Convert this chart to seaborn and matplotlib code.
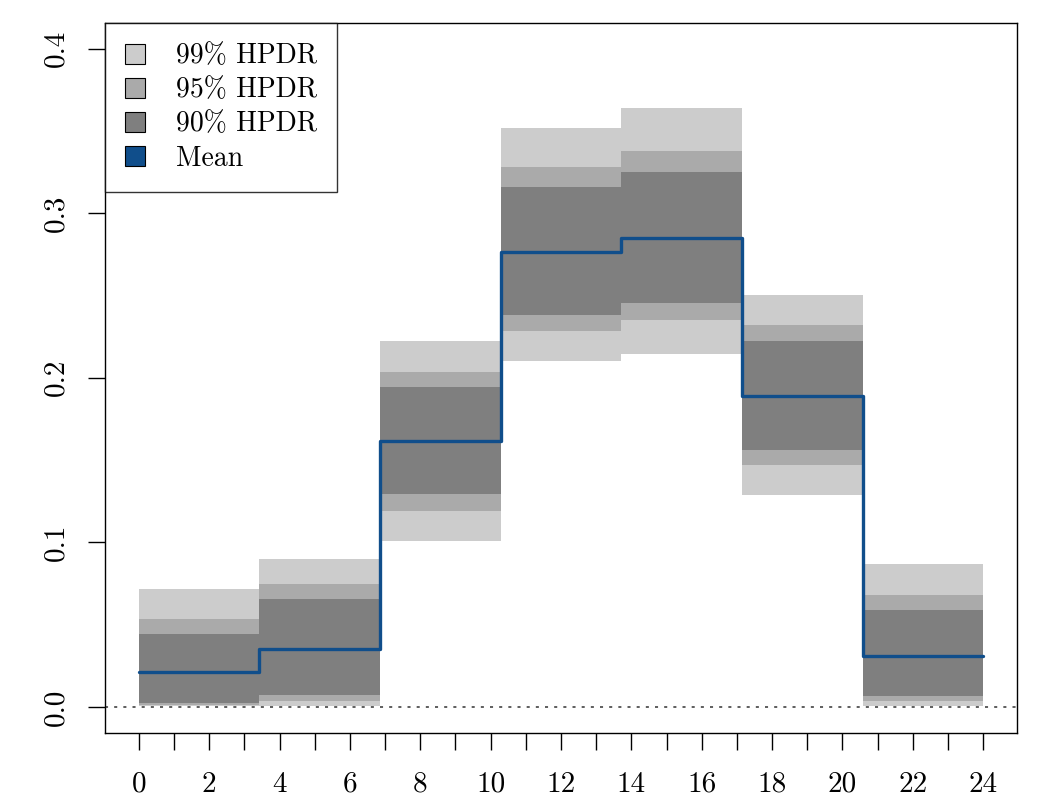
import numpy as np
import matplotlib
matplotlib.use("Agg")
import matplotlib.pyplot as plt
from matplotlib.patches import Patch
import seaborn as sns
import pandas as pd

# Bin edges (7 equal bins over 0..24)
edges = np.linspace(0, 24, 8)

# Posterior summaries per bin
mean_vals = [0.0210, 0.0354, 0.1615, 0.2763, 0.2850, 0.1892, 0.0311]
hpd99_lo = [0.0003, 0.0005, 0.1011, 0.2101, 0.2145, 0.1285, 0.0009]
hpd99_hi = [0.0718, 0.0902, 0.2222, 0.3518, 0.3637, 0.2504, 0.0866]
hpd95_lo = [0.0012, 0.0035, 0.1189, 0.2287, 0.2348, 0.1471, 0.0035]
hpd95_hi = [0.0532, 0.0748, 0.2034, 0.3279, 0.3379, 0.2322, 0.0683]
hpd90_lo = [0.0023, 0.0074, 0.1291, 0.2384, 0.2457, 0.1564, 0.0064]
hpd90_hi = [0.0445, 0.0659, 0.1943, 0.3157, 0.3251, 0.2224, 0.0592]

x_tick_labels = [str(v) if v % 2 == 0 else "" for v in range(25)]
y_ticks = [0.0, 0.1, 0.2, 0.3, 0.4]

sns.set_theme(style="white")
plt.rcParams["font.family"] = ["cmr10", "DejaVu Serif"]
plt.rcParams["axes.formatter.use_mathtext"] = True
plt.rcParams["mathtext.fontset"] = "cm"
plt.rcParams["text.color"] = "black"
plt.rcParams["xtick.color"] = "black"
plt.rcParams["ytick.color"] = "black"
plt.rcParams["xtick.labelcolor"] = "black"
plt.rcParams["ytick.labelcolor"] = "black"

col99, col95, col90 = "#CCCCCC", "#AAAAAA", "#7F7F7F"
col_mean = "#104E8B"

fig = plt.figure(figsize=(10.38, 7.96), dpi=100)
ax = fig.add_axes([105 / 1038, 63 / 796, (1017 - 105) / 1038, (733 - 23) / 796])

def step_y(vals):
    return np.append(vals, vals[-1])

for lo, hi, c in [(hpd99_lo, hpd99_hi, col99),
                  (hpd95_lo, hpd95_hi, col95),
                  (hpd90_lo, hpd90_hi, col90)]:
    ax.fill_between(edges, step_y(lo), step_y(hi), step="post",
                    color=c, linewidth=0)

df = pd.DataFrame({"x": edges, "mean": step_y(mean_vals)})
sns.lineplot(data=df, x="x", y="mean", ax=ax, color=col_mean,
             linewidth=2.4, drawstyle="steps-post", estimator=None)

ax.axhline(0, color="#333333", linestyle=(0, (2, 4)), linewidth=1.1)

ax.set_xlim(-0.96, 24.96)
ax.set_ylim(-0.0158, 0.4155)
ax.set_xticks(range(25))
ax.set_xticklabels(x_tick_labels)
ax.set_yticks(y_ticks)
ax.set_yticklabels([f"{v:.1f}" for v in y_ticks], rotation=90, va="center")
ax.set_xlabel("")
ax.set_ylabel("")
ax.tick_params(axis="both", direction="out", length=12, width=1.0,
               color="black", labelcolor="black", labelsize=21,
               bottom=True, left=True)
ax.tick_params(axis="x", pad=15.5)
ax.tick_params(axis="y", pad=14)
for s in ax.spines.values():
    s.set_color("black")
    s.set_linewidth(1.0)
    s.set_visible(True)

handles = [Patch(facecolor=col99, edgecolor="black", linewidth=0.8, label="99% HPDR"),
           Patch(facecolor=col95, edgecolor="black", linewidth=0.8, label="95% HPDR"),
           Patch(facecolor=col90, edgecolor="black", linewidth=0.8, label="90% HPDR"),
           Patch(facecolor=col_mean, edgecolor="black", linewidth=0.8, label="Mean")]
leg = ax.legend(handles=handles, loc="upper left", borderaxespad=0,
                fontsize=20, frameon=True, fancybox=False, handlelength=0.72,
                handleheight=0.72, handletextpad=1.1, borderpad=0.72,
                labelspacing=0.28)
leg.get_frame().set_edgecolor("black")
leg.get_frame().set_linewidth(1.0)

fig.savefig("out.png", dpi=100)
